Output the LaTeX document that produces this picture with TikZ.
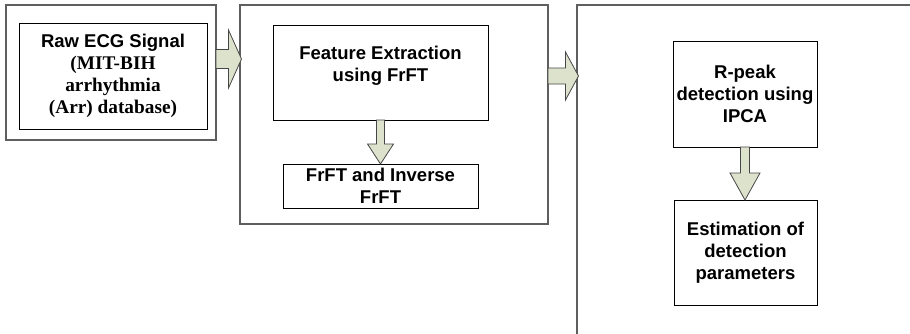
\documentclass[tikz,border=0pt]{standalone}
\usepackage{fontspec}
\setmainfont{Liberation Serif}
\setsansfont{Liberation Sans}
\usepackage{tikz}
\usetikzlibrary{calc}
\definecolor{framegray}{RGB}{95,95,95}
\definecolor{arrowfill}{RGB}{221,226,204}
\definecolor{arrowline}{RGB}{70,70,70}

% serif lines of the input box
\newcommand{\dbfont}{\rmfamily\fontsize{19.3}{22}\selectfont}
% block arrow pointing right: from, to, y centre, shaft half width, head half width
\newcommand{\rightblock}[5]{%
  \draw[blockarrow] let \p1=(#1.east), \p2=(#2.west) in
    (\x1,#3pt+#4pt) -- (\x2-11.5pt,#3pt+#4pt) -- (\x2-11.5pt,#3pt+#5pt) -- (\x2+1.5pt,#3pt)
    -- (\x2-11.5pt,#3pt-#5pt) -- (\x2-11.5pt,#3pt-#4pt) -- (\x1,#3pt-#4pt) -- cycle;}
% block arrow pointing down: from, to, shaft half width, head half width, head length
\newcommand{\downblock}[5]{%
  \draw[blockarrow] let \p1=(#1.south), \p2=(#2.north) in
    (\x1-#3pt,\y1) -- (\x1-#3pt,\y2+#5pt) -- (\x1-#4pt,\y2+#5pt) -- (\x1,\y2)
    -- (\x1+#4pt,\y2+#5pt) -- (\x1+#3pt,\y2+#5pt) -- (\x1+#3pt,\y1) -- cycle;}

\begin{document}
\begin{tikzpicture}[x=1pt, y=1pt,
  outerbox/.style={draw=framegray, line width=1.3pt, fill=white, inner sep=0pt, outer sep=0pt},
  innerbox/.style={draw=black, line width=0.9pt, inner sep=0pt, outer sep=0pt, align=center,
    font=\sffamily\bfseries\fontsize{18.5}{22}\selectfont},
  blocktext/.style={inner sep=0pt, align=center, font=\sffamily\bfseries\fontsize{18.5}{22}\selectfont},
  blockarrow/.style={draw=arrowline, line width=0.8pt, fill=arrowfill, line join=miter}]
  \useasboundingbox (0,0) rectangle (910,-333);
  \clip (0,0) rectangle (910,-333);

  % Stage 1: input signal
  \node[outerbox, minimum width=210, minimum height=135] (rawframe) at (111,-72.5) {};
  \node[innerbox, minimum width=188, minimum height=106] (raw) at (113,-76)
    {Raw ECG Signal\\{\dbfont (MIT-BIH}\\{\dbfont arrhythmia}\\{\dbfont (Arr) database)}};

  % Stage 2: fractional Fourier transform
  \node[outerbox, minimum width=308, minimum height=219] (frftframe) at (394,-114.5) {};
  \node[innerbox, minimum width=215, minimum height=95] (feature) at (380.5,-72.5) {};
  \node[blocktext] (featuretext) at ([yshift=6.5pt]feature.center) {Feature Extraction\\using FrFT};
  \node[innerbox, minimum width=195, minimum height=44] (inverse) at (380.5,-186) {FrFT and Inverse\\FrFT};

  % Stage 3: detection
  \node[outerbox, minimum width=343, minimum height=340] (detframe) at (748.5,-175) {};
  \node[innerbox, minimum width=144, minimum height=106] (rpeak) at (745,-94) {R-peak\\detection using\\IPCA};
  \node[innerbox, minimum width=143, minimum height=105] (estim) at (745.5,-252.5) {Estimation of\\detection\\parameters};

  % Block arrows
  \rightblock{rawframe}{frftframe}{-59}{9.5}{29}
  \rightblock{frftframe}{detframe}{-76}{8}{24}
  \downblock{feature}{inverse}{4}{13}{20}
  \downblock{rpeak}{estim}{4.5}{15}{27}
\end{tikzpicture}
\end{document}
